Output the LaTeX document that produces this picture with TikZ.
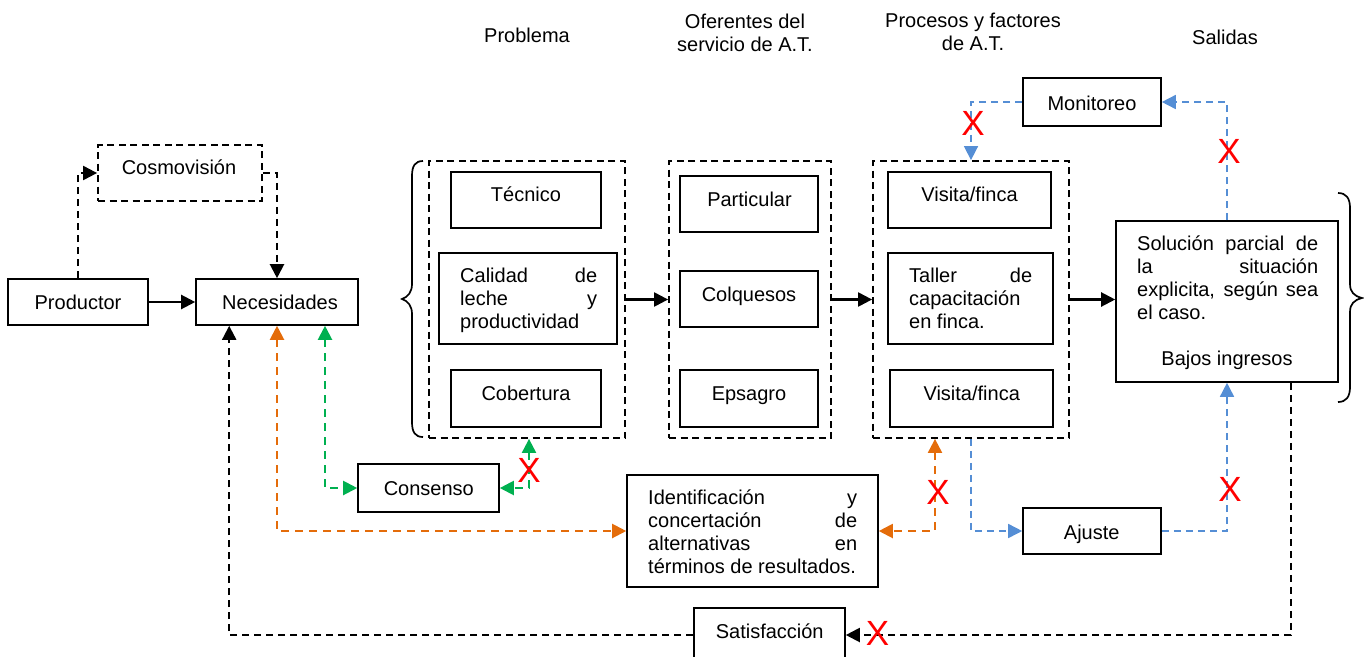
\documentclass[tikz,border=0pt]{standalone}
\usepackage{fontspec}
\setmainfont{Liberation Sans}
\usetikzlibrary{arrows.meta,calc}
\definecolor{linkorange}{HTML}{E46C0A}
\definecolor{linkgreen}{HTML}{00B050}
\definecolor{linkblue}{HTML}{558ED5}
\definecolor{crossred}{HTML}{FF0000}
\tikzset{
  >={Triangle[length=14pt,width=14pt]},
  box/.style={draw=black, line width=1.6pt, inner sep=0pt},
  groupbox/.style={draw=black, line width=1.8pt, dash pattern=on 7pt off 4.5pt, inner sep=0pt},
  lbl/.style={inner sep=0pt, font=\fontsize{20}{23}\selectfont},
  flow/.style={line width=2.2pt, ->},
  blackdash/.style={line width=2.1pt, dash pattern=on 7pt off 5pt, ->},
  bluedash/.style={draw=linkblue, line width=1.6pt, dash pattern=on 7pt off 5pt, ->},
  orangedash/.style={draw=linkorange, line width=2.1pt, dash pattern=on 8pt off 6pt, <->},
  greendash/.style={draw=linkgreen, line width=2.1pt, dash pattern=on 8pt off 6pt, <->},
  cross/.style={text=crossred, inner sep=0pt, font=\fontsize{35}{35}\selectfont},
  brace/.style={line width=1.7pt},
}
\begin{document}
\begin{tikzpicture}[x=1pt,y=-1pt]
\useasboundingbox (0,0) rectangle (1364,656);
\clip (0,0) rectangle (1364,656);

% column headings
\node[lbl, anchor=base] (h-prob) at (527,42) {Problema};
\node[lbl, align=center, anchor=north] (h-ofer) at (745,11.9) {\strut Oferentes del\\servicio de A.T.};
\node[lbl, align=center, anchor=north] (h-proc) at (973,10.9) {\strut Procesos y factores\\de A.T.};
\node[lbl, anchor=base] (h-sal) at (1225,44) {Salidas};

% producer side
\node[box, minimum width=140pt, minimum height=46pt] (prod) at (78,302) {};
\node[lbl, anchor=base] (prod-t) at (78,309) {Productor};
\node[box, minimum width=162pt, minimum height=46pt] (nec) at (277,302) {};
\node[lbl, anchor=base] (nec-t) at (280,309) {Necesidades};
\node[groupbox, minimum width=164pt, minimum height=56pt] (cosmo) at (180,173) {};
\node[lbl, anchor=base] (cosmo-t) at (179,174) {Cosmovisión};

% problem group
\node[groupbox, minimum width=196pt, minimum height=277pt] (probg) at (527,299.5) {};
\node[box, minimum width=150pt, minimum height=56pt] (tec) at (526,200) {};
\node[lbl, anchor=base] (tec-t) at (526,201.7) {Técnico};
\node[box, minimum width=178pt, minimum height=91pt] (cal) at (528,298.5) {};
\node[lbl, align=left, anchor=north west] (cal-t) at (460,266.6)
  {\strut\makebox[137pt][s]{Calidad de}\\\makebox[137pt][s]{leche y}\\productividad};
\node[box, minimum width=150pt, minimum height=57pt] (cob) at (526,398.5) {};
\node[lbl, anchor=base] (cob-t) at (526,400) {Cobertura};

% service providers group
\node[groupbox, minimum width=162pt, minimum height=277pt] (oferg) at (750,299.5) {};
\node[box, minimum width=138pt, minimum height=56pt] (par) at (749,204) {};
\node[lbl, anchor=base] (par-t) at (749.5,206.7) {Particular};
\node[box, minimum width=138pt, minimum height=56pt] (col) at (749,299) {};
\node[lbl, anchor=base] (col-t) at (749,301.7) {Colquesos};
\node[box, minimum width=138pt, minimum height=57pt] (eps) at (749,398.5) {};
\node[lbl, anchor=base] (eps-t) at (749,400) {Epsagro};

% processes group
\node[groupbox, minimum width=196pt, minimum height=277pt] (procg) at (971,299.5) {};
\node[box, minimum width=163pt, minimum height=56pt] (vis1) at (969.5,200) {};
\node[lbl, anchor=base] (vis1-t) at (969.5,201.7) {Visita/finca};
\node[box, minimum width=165pt, minimum height=91pt] (tal) at (970.5,298.5) {};
\node[lbl, align=left, anchor=north west] (tal-t) at (909,266.6)
  {\strut\makebox[123pt][s]{Taller de}\\capacitación\\en finca.};
\node[box, minimum width=163pt, minimum height=57pt] (vis2) at (971.5,398.5) {};
\node[lbl, anchor=base] (vis2-t) at (971.7,400) {Visita/finca};

% outputs
\node[box, minimum width=222pt, minimum height=161pt] (sol) at (1227,301.5) {};
\node[lbl, align=left, anchor=north west] (sol-t) at (1137,233.9)
  {\strut\makebox[181pt][s]{Solución parcial de}\\\makebox[181pt][s]{la situación}\\\makebox[181pt][s]{explicita, según sea}\\el caso.};
\node[lbl, anchor=base] (sol-b) at (1227,365) {Bajos ingresos};
\node[box, minimum width=138pt, minimum height=48pt] (mon) at (1092,102) {};
\node[lbl, anchor=base] (mon-t) at (1092,110) {Monitoreo};
\node[box, minimum width=138pt, minimum height=46pt] (aj) at (1092,531) {};
\node[lbl, anchor=base] (aj-t) at (1091.7,539) {Ajuste};

% feedback boxes
\node[box, minimum width=141pt, minimum height=48pt] (cons) at (428.5,488) {};
\node[lbl, anchor=base] (cons-t) at (428.8,495) {Consenso};
\node[box, minimum width=251pt, minimum height=112pt] (ide) at (752.5,531) {};
\node[lbl, align=left, anchor=north west] (ide-t) at (648,487.9)
  {\strut\makebox[209pt][s]{Identificación y}\\\makebox[209pt][s]{concertación de}\\\makebox[209pt][s]{alternativas en}\\términos de resultados.};
\node[box, minimum width=151pt, minimum height=54pt] (sat) at (769.5,635) {};
\node[lbl, anchor=base] (sat-t) at (769.7,638.3) {Satisfacción};

% braces
\draw[brace] (423,161) .. controls (415,161) and (412,166) .. (412,176) -- (412,284)
  .. controls (412,292) and (408,297) .. (402,299)
  .. controls (408,301) and (412,306) .. (412,314) -- (412,422)
  .. controls (412,432) and (415,437) .. (423,437);
\draw[brace] (1338,193) .. controls (1346,193) and (1350,198) .. (1350,208) -- (1350,284)
  .. controls (1350,292) and (1354,296) .. (1362,298)
  .. controls (1354,300) and (1350,304) .. (1350,312) -- (1350,387)
  .. controls (1350,397) and (1346,402) .. (1338,402);

% main flow
\draw[flow] (prod.east) -- (nec.west);
\draw[blackdash] (prod.north) |- (cosmo.west);
\draw[blackdash] (cosmo.east) -| (nec.north);
\draw[flow] (probg.east) -- (oferg.west);
\draw[flow] (oferg.east) -- (procg.west);
\draw[flow] (procg.east) -- (procg.east -| sol.west);

% monitoring and adjustment loops
\draw[bluedash] (mon.west) -| (procg.north);
\draw[bluedash] (sol.north) |- (mon.east);
\draw[bluedash] (procg.south) |- (aj.west);
\draw[bluedash] (aj.east) -| (sol.south);

% satisfaction loop
\coordinate (solout) at ($(sol.south east)+(-48,0)$);
\coordinate (necin) at ($(nec.south west)+(34,0)$);
\draw[blackdash] (solout) |- (sat.east);
\draw[blackdash] (sat.west) -| (necin);

% agreement links
\coordinate (procor) at ($(procg.south)+(-36,0)$);
\coordinate (necgr) at ($(nec.south)+(48,0)$);
\coordinate (probgr) at ($(probg.south)+(2,0)$);
\draw[orangedash] (nec.south) |- (ide.west);
\draw[orangedash] (procor) |- (ide.east);
\draw[greendash] (necgr) |- (cons.west);
\draw[greendash] (probgr) |- (cons.east);

% broken links
\node[cross] (x-mon) at (973,123) {X};
\node[cross] (x-sol) at (1229,151) {X};
\node[cross] (x-aj) at (1230,489) {X};
\node[cross] (x-ide) at (938,492) {X};
\node[cross] (x-cons) at (529,470) {X};
\node[cross] (x-sat) at (877.5,633.5) {X};
\end{tikzpicture}
\end{document}
